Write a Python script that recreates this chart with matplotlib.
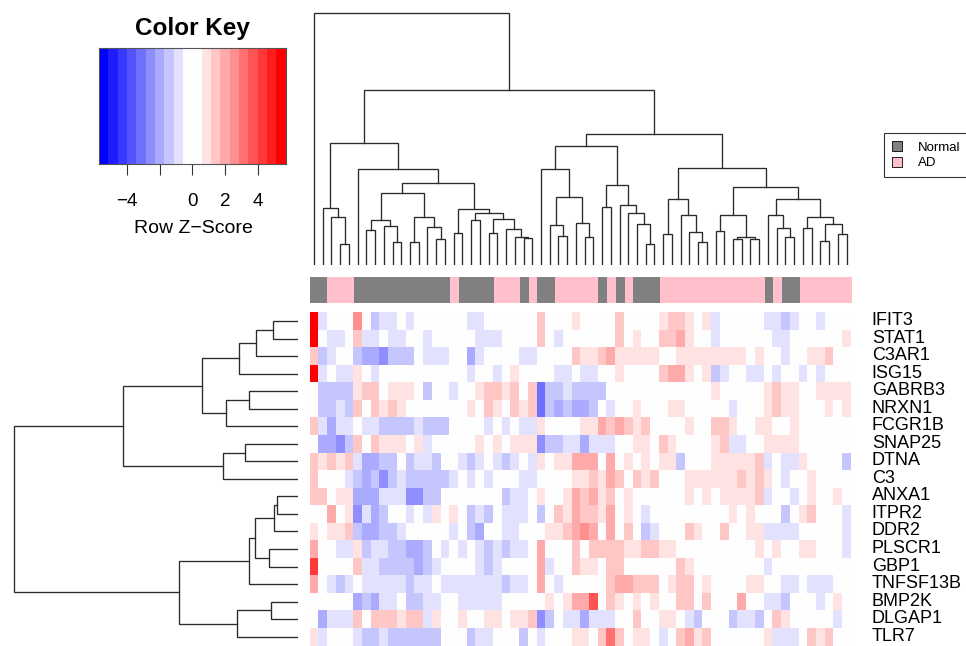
import numpy as np
import matplotlib.pyplot as plt
import matplotlib.transforms as mtransforms
from matplotlib.colors import ListedColormap, BoundaryNorm, LinearSegmentedColormap
from matplotlib.patches import Patch

plt.rcParams['font.family'] = ['Liberation Sans', 'DejaVu Sans']

# Row labels (genes), top to bottom as drawn
genes = ['IFIT3', 'STAT1', 'C3AR1', 'ISG15', 'GABRB3', 'NRXN1', 'FCGR1B', 'SNAP25',
         'DTNA', 'C3', 'ANXA1', 'ITPR2', 'DDR2', 'PLSCR1', 'GBP1', 'TNFSF13B',
         'BMP2K', 'DLGAP1', 'TLR7']

# Sample group of every column, left to right
N, A = 'Normal', 'AD'
groups = [N, N, A, A, A, N, N, N, N, N, N, N, N, N, N, N, A, N, N, N, N, A, A, A, N, A,
          N, N, A, A, A, A, A, N, A, N, A, N, N, N, A, A, A, A, A, A, A, A, A, A, A, A,
          N, A, N, N, A, A, A, A, A, A]

# Row z-scores, one list per gene, 62 samples each
z = np.array([
    [5.4,-1,0,0,0,2.6,0,-1.5,-1,-1,0,-1,0,0,0,0,0,0,-1,-1,0,0,0,0,0,0,1.5,0,0,0,1,
     0,0,0,0,1.5,0,0,0,0,1,1.5,1.5,1,0,1,-1,0,0,0,0,0,-1,-1,-1.5,-1,0,0,-1,0,0,0],
    [5.4,0,-1,-1,0,1.5,-1,-1,0,-1,-1,0,0,-1,0,0,0,0,0,-1,-1,-1,0,0,0,0,1.5,0,-1,0,0,
     0,0,0,0,1.5,0,1,0,0,1.5,1.5,2,1,0,0,-1,0,0,0,0,0,0,-1,-1,0,0,0,0,0,0,1],
    [1.5,-1.5,-1,0,0,-1.5,-2,-2,-2.5,-1.5,-1.5,-1.5,0,-1,-1,-1,0,0,-2,-1,0,0,0,0,-1,-1,0,0,0,0,1.5,
     1,1,1.5,2,1,1,1,1,1,0,0,1,1,1,1,1,1,1,1,0,1,0,0,-1,0,0,1,1,1.5,0,0],
    [5.4,-1,0,-1,-1,1,0,-1,0,0,0,0,0,0,0,0,0,0,-1,0,0,-1,0,1,0,0,0,0,-1,-1,0,
     -1,-1,0,0,1,0,0,0,0,1.5,2,2,1,0,1,-1.5,-1,0,0,-1,-1,0,-1,0,0,-1,0,-1,0,0,0],
    [0,-1.5,-1.5,-1.5,-1.5,1,1.5,1.5,0,1,1,1,0,-1.5,0,0,-1,0,0,1,1.5,1.5,1,1.5,0,1.5,-3,-1.5,-1.5,-1,-1.5,
     -1.5,-1.5,-1.5,0,0,0,0,0,0,0,0,0,0,0,0,1,0,0,0,0,0,1,1.5,1,1,0,0,1,1,1,1],
    [0,-1.5,-1.5,-1,-1.5,1.5,0,1.5,1,1.5,1,0,0,0,0,0,0,0,1,0,1.5,1,0,1.5,1,1.5,-3,-1.5,-2,-1.5,-2,
     -2,-1.5,0,-1,0,0,1,0,0,0,1,1,0,0,0,0,0,-1,0,0,0,1,1.5,1,1,0,0,0,1,0,1],
    [1.5,-1,-2,-1,-1,0,-1,-1,-1.5,-1.5,-1.5,-1.5,-1,-1.5,-1.5,-1.5,0,0,0,0,-1,0,-1,0,-1,-1,1,0,0,0,0,
     1,1,2,1.5,2,1.5,1,1.5,0,0,0,0,1,0,0,1.5,1.5,1,0,0,1,1,0,0,1,0,0,0,0,0,0],
    [0,-2,-2,-2.5,-1.5,1.5,0,1.5,1,1,1,0,1,-1,0,0,0,0,0,1,0,1,0,1,1,1,-2.5,-1.5,-1.5,-1,-1,
     -2,-1,-1,-1,0,0,1,1,0,1.5,1,0,0,0,0,1,1.5,-1,-1,0,0,1,1,1,1,0,0,0,0,0,0],
    [1.5,1,1.5,1,1.5,-1,-2,-2,-1.5,-1.5,0,-1.5,-1,-1,-1.5,0,0,-1,-1.5,-1,0,-1,-1.5,-1,0,-1,1,0,1,1,2,
     2,2,0,2,0,1,0,1,0,1,1,-1.5,0,0,0,1,1,1,1,1,1.5,-1,0,-1,-1,1,0,0,0,0,-1.5],
    [1.5,0,0,0,-1,-1.5,-2,-1.5,-2.5,-1.5,-1,-1.5,-1.5,-1.5,-1.5,-1.5,-1,0,-1,0,-1,0,0,0,-1,-1,0,0,0,0,1,
     1,1.5,1,2,1.5,0,1.5,1,1.5,0,0,0,1,1,1,1,1,1,1.5,1,1.5,1,0,-1,0,0,1,0,0,0,0],
    [1.5,1.5,0,1,1,-2,-2,-2,-1,-1,-1,-2.5,-2.5,-1.5,-1.5,0,0,0,0,0,0,0,-1.5,-1,-1,0,1,0,0,1,2,
     1.5,2,1,1.5,0,1,0,0,0,0,0,0,1,0,1,0,1,1,1,1,1.5,-1,0,0,-1,0,1,0,0,1,0],
    [0,0,2,0,1,-2.5,-1,-2,-1.5,0,0,-1,0,-1,1,0,1,0,-1.5,-1,-1.5,0,-1,-1,-1,0,-1.5,0,1.5,1,2,
     1.5,1.5,1,2,0,1,0,-1,0,0,0,0,0,0,0,0,0,1,0,1,0,0,0,-1.5,0,1,1.5,0,0,0,-1],
    [1,0,1,1,1.5,-1.5,-2,-2,-1.5,-1.5,-1,0,0,0,0,0,-1,0,-1.5,-2,0,0,-1,-1,0,0,0,1,1,1.5,2,
     2.6,2,0,2,0,1.5,0,-1.5,-1,0,0,0,1.5,1,0,0,1.5,0,0,1,1,-1,-1,-1,-1,0,0,0,0,0,-1],
    [2,0,0,-1,-1,1,-1.5,-1,-1,-1.5,-1.5,-2,-2,-1.5,0,-1,0,-1,0,-1,-1.5,-1,-1.5,-1,-1,0,2,0,0,0,1.5,
     0,1.5,1.5,1.5,1.5,1,1,1.5,1.5,1,1,0,0,0,0,0,0,0,0,0,1,0,1,0,0,1,1,0,0,0,-1],
    [4,0,0,0,0,1.5,-1,-1,-1.5,-1.5,-1.5,-1.5,-2,-1.5,-1,0,0,0,0,-1,-1.5,-1,0,0,0,0,2,-1,0,0,1.5,
     1,1,0,1.5,1.5,0,0,0,0,0,0,1.5,1,0,0,0,0,0,0,0,0,-1,0,0,0,0,0,0,0,0,0],
    [2,0,-1,-1.5,-1,0,-1,-1,-1,-1,-1,-1.5,-1,-1,0,-1,-1,-1,-1,-1,-1,-1,-1.5,-1,-1,0,2,0,-1,0,0,
     0,0,0,1.5,2,2,1.5,1.5,1.5,0,1,1.5,1.5,0,1,0,0,0,0,1,1,0,0,-1,-1,0,-1,-1,-1,0,0],
    [0,0,0,0,0,-2,-1.5,-2,-1,-1,0,-1.5,-1.5,-1,-1,0,0,-1,-1,-1,-1,-1,0,0,0,0,0,1,0,1,2,
     2,3.9,0,1.5,1,0,1,0,1,0,0,1.5,1.5,0,1.5,0,0,0,2,0,0,-1,-1,-1.5,0,0,0,-1,0,1,0],
    [0,-2,-1,-1,-1,1.5,0,1.5,1.5,1.5,1,1.5,1.5,-1,1,0,0,1,0,0,1,1,0,1,1,1.5,-2.5,-1.5,0,-1,-1,
     -2,-1,-1,-1,0,0,1.5,0,0,1,1,0,-1,-1.5,0,0,0,-1.5,-1,-1,-1.5,0,1.5,1,0,0,0,0,0,-1,0],
    [1,-1,0,0,0,-1,-1.5,-1.5,-1,-1.5,-1.5,-1.5,-1.5,-1.5,-1.5,0,0,0,-1.5,-1,-1,0,0,0,-1.5,0,-1,0,0,0,1,
     1,0,1.5,3,1.5,0,1,1,0,-1,0,1.5,2,1,1.5,0,0,0,0,0,0,1,-1,-1,-1,0,1.5,1,1.5,0,0],
])

# Column dendrogram: (left, right, height), leaves are column positions
a8 = (6, 7, 35); a9 = (8, (9, 10, 23.3), 39); a6 = (a8, a9, 45)
a7 = ((11, 12, 23.3), (13, (14, 15, 25.7), 38.3), 47.7)
a4 = (a6, a7, 72.3)
a17 = ((20, 21, 31.7), (22, (23, (24, 25, 26.7), 28.3), 36.3), 46.3)
a5 = ((16, 17, 32.3), ((18, 19, 45), a17, 52.3), 56.3)
a1 = (1, (2, (3, 4, 21), 48.3), 56.7)
a = (a1, (5, (a4, a5, 81.7), 95.7), 122.3)
b5 = ((27, (28, 29, 29.3), 40.3), (30, (31, 32, 28), 41.7), 68.3)
b4 = ((33, 34, 57.7), (35, (36, (37, (38, 39, 21), 40.7), 52.3), 59.7), 80)
b1 = ((26, b5, 96), b4, 119.3)
b15 = ((40, 41, 31), (42, (43, (44, 45, 23), 32.7), 50), 65.7)
b21 = ((46, 47, 34.3), ((48, 49, 25.7), (50, 51, 25.7), 28.3), 50.3)
b27 = (52, (53, (54, 55, 28.3), 36.7), 50)
b28 = ((56, 57, 36.7), ((58, 59, 24.3), (60, 61, 31), 41.3), 48.3)
b2 = (b15, (b21, (b27, b28, 66.3), 78.3), 97.3)
b = (b1, b2, 131)
col_tree = (0, (a, b, 175), 252)

# Row dendrogram
t1 = ((((0, 1, 25), 2, 42.6), 3, 59.3), ((4, 5, 49), 6, 72.6), 96.6)
t2 = ((7, 8, 53.3), 9, 75)
u1 = ((((10, 11, 21), 12, 24.3), (13, 14, 29), 43), 15, 49)
u2 = ((16, 17, 27.6), 18, 61.6)
row_tree = ((t1, t2, 175), (u1, u2, 119.3), 284)

key_min, key_max, n_bins = -5.7, 5.7, 20

W, H = 966, 646
fig = plt.figure(figsize=(W / 100, H / 100), dpi=100)


def px_axes(x0, y0, x1, y1):
    # pixel box (y measured from the top) -> figure axes
    return fig.add_axes([x0 / W, 1 - y1 / H, (x1 - x0) / W, (y1 - y0) / H])


def draw_tree(ax, node, sideways=False):
    if not isinstance(node, tuple):
        return node, 0
    left, right, h = node
    pl, hl = draw_tree(ax, left, sideways)
    pr, hr = draw_tree(ax, right, sideways)
    pos = [pl, pl, pr, pr]
    hts = [hl, h, h, hr]
    if sideways:
        ax.plot(hts, pos, color='#2a2a2a', lw=0.95, solid_joinstyle='miter')
    else:
        ax.plot(pos, hts, color='#2a2a2a', lw=0.95, solid_joinstyle='miter')
    return (pl + pr) / 2, h


# colours: blue -> white -> red, white spanning the two middle bins
ramp = LinearSegmentedColormap.from_list('bwr_r', ['#0000FF', '#FFFFFF', '#FF0000'])
steps = [ramp(i / 18) for i in range(19)]
cmap = ListedColormap(steps[:10] + steps[9:])
bounds = np.linspace(key_min, key_max, n_bins + 1)
norm = BoundaryNorm(bounds, cmap.N)

n_rows, n_cols = z.shape
hm_left, hm_right, hm_top, hm_bottom = 309.6, 850.9, 312.2, 645.5

# heatmap
ax_hm = px_axes(hm_left, hm_top, hm_right, hm_bottom)
ax_hm.pcolormesh(np.arange(n_cols + 1) - 0.5, np.arange(n_rows + 1) - 0.5, z,
                 cmap=cmap, norm=norm)
ax_hm.set_xlim(-0.5, n_cols - 0.5)
ax_hm.set_ylim(n_rows - 0.5, -0.5)
ax_hm.set_xticks([])
ax_hm.yaxis.tick_right()
ax_hm.set_yticks(range(n_rows))
ax_hm.set_yticklabels(genes, fontsize=13)
ax_hm.tick_params(axis='y', length=0, pad=15)
lift = mtransforms.ScaledTranslation(0, 2.5 / 100, fig.dpi_scale_trans)
for lbl in ax_hm.get_yticklabels():
    lbl.set_transform(lbl.get_transform() + lift)
for s in ax_hm.spines.values():
    s.set_visible(False)

# column side colours
ax_side = px_axes(hm_left, 277, hm_right, 302.5)
group_names = ['Normal', 'AD']
group_colors = ['#808080', '#FFC0CB']
ax_side.imshow([[group_names.index(g) for g in groups]], aspect='auto',
               cmap=ListedColormap(group_colors), vmin=0, vmax=1,
               extent=(-0.5, n_cols - 0.5, 0, 1), interpolation='nearest')
ax_side.set_xlim(-0.5, n_cols - 0.5)
ax_side.axis('off')

# column dendrogram
ax_top = px_axes(hm_left, 0, hm_right, 265)
draw_tree(ax_top, col_tree)
ax_top.set_xlim(-0.5, n_cols - 0.5)
ax_top.set_ylim(0, 265)
ax_top.axis('off')

# row dendrogram
ax_left = px_axes(0, hm_top, 298.3, hm_bottom)
draw_tree(ax_left, row_tree, sideways=True)
ax_left.set_xlim(298.3, 0)
ax_left.set_ylim(n_rows - 0.5, -0.5)
ax_left.axis('off')

# colour key
ax_key = px_axes(99, 48.3, 285.7, 164.3)
ax_key.pcolormesh(bounds, [0, 1], [(bounds[:-1] + bounds[1:]) / 2], cmap=cmap, norm=norm)
ax_key.set_xlim(key_min, key_max)
ax_key.set_ylim(0, 1)
ax_key.set_yticks([])
ax_key.set_xticks([-4, -2, 0, 2, 4])
ax_key.set_xticklabels(['\u22124', '', '0', '2', '4'], fontsize=13.5)
ax_key.tick_params(axis='x', length=8, width=0.8, pad=13, color='#333333')
for s in ax_key.spines.values():
    s.set_color('#555555')
    s.set_linewidth(0.8)
fig.text(192.5 / W, 1 - 35 / H, 'Color Key', fontsize=17.5, fontweight='bold',
         ha='center', va='baseline')
fig.text(193 / W, 1 - 232.7 / H, 'Row Z\u2212Score', fontsize=14, ha='center', va='baseline')

# legend
handles = [Patch(facecolor=c, edgecolor='black', linewidth=0.6) for c in group_colors]
leg = fig.legend(handles, group_names, loc='upper left', bbox_to_anchor=(884 / W, 1 - 133.3 / H),
                 fontsize=9.5, frameon=True, fancybox=False, edgecolor='black',
                 handlelength=0.75, handleheight=0.75, handletextpad=1.2,
                 borderpad=0.6, labelspacing=0.25, borderaxespad=0)
leg.get_frame().set_linewidth(0.8)

fig.savefig('out.png', dpi=100)
